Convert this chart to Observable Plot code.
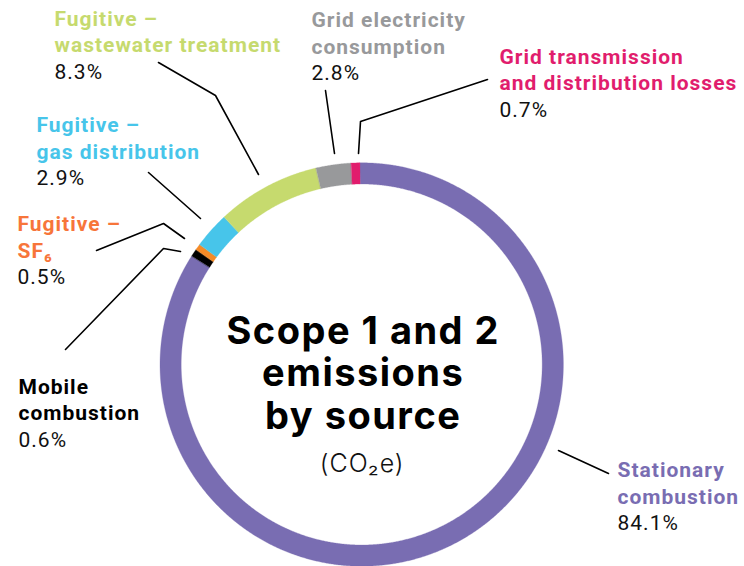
<!DOCTYPE html>
<html><head><meta charset="utf-8">
<script src="https://cdn.jsdelivr.net/npm/d3@7"></script>
<script src="https://cdn.jsdelivr.net/npm/@observablehq/plot@0.6"></script>
<style>
html,body{margin:0;padding:0;background:#fff}svg{display:block}
g[font-family="Roboto"] text{letter-spacing:1px}
g[font-family="Inter"][font-weight="700"] text{letter-spacing:1.5px}
g[font-family="Inter"][font-weight="300"] text{letter-spacing:1px}
</style>
</head><body><div id="chart"></div>
<script>
// ---- data ----
const categories = ["Stationary combustion", "Mobile combustion", "Fugitive – SF₆", "Fugitive – gas distribution", "Fugitive – wastewater treatment", "Grid electricity consumption", "Grid transmission and distribution losses"];
const labelLines = [["Stationary", "combustion"], ["Mobile", "combustion"], ["Fugitive –", "SF₆"], ["Fugitive –", "gas distribution"], ["Fugitive –", "wastewater treatment"], ["Grid electricity", "consumption"], ["Grid transmission", "and distribution losses"]];
const shares = [84.1, 0.6, 0.5, 2.9, 8.3, 2.8, 0.7];
const shareLabels = ["84.1%", "0.6%", "0.5%", "2.9%", "8.3%", "2.8%", "0.7%"];
const segmentColors = ["#796db2", "#000000", "#f68a26", "#47c5ea", "#c6da6e", "#98999b", "#e11d6d"];
const labelColors = ["#796db2", "#000000", "#f7753a", "#47c5ea", "#c6da6e", "#98999b", "#e11d6d"];
const titleLines = ["Scope 1 and 2", "emissions", "by source"];
const unitLabel = "(CO₂e)";

// ---- layout (pixels) ----
const W = 744, H = 566;
const ring = {cx: 361.7, cy: 364.5, outer: 201.7, inner: 180.5, startDeg: -0.5};
const labelAnchors = [[617, 476.7], [18, 393], [17, 230.5], [36, 131.7], [54, 25], [311, 26.7], [499, 63.3]];
const lineStep = 26.5;
const leaders = [
  [[558, 450], [608, 473]],
  [[65, 349], [163, 248], [180, 251]],
  [[96, 250], [163, 223], [184, 238]],
  [[148, 172], [200, 218]],
  [[158, 62], [215, 95], [258, 174]],
  [[325, 90], [334, 153]],
  [[487, 79], [360, 121], [358, 153]]
];

// ---- ring geometry from the shares ----
const pie = d3.pie().sort(null).value(d => d)
  .startAngle(ring.startDeg * Math.PI / 180)
  .endAngle(ring.startDeg * Math.PI / 180 + 2 * Math.PI);
const arcs = pie(shares);
const ringPts = [];
arcs.forEach((a, i) => {
  const n = Math.max(2, Math.ceil((a.endAngle - a.startAngle) / 0.005));
  for (let k = 0; k <= n; k++) {
    const t = a.startAngle + (a.endAngle - a.startAngle) * k / n;
    ringPts.push({
      cat: categories[i],
      ox: ring.cx + ring.outer * Math.sin(t), oy: ring.cy - ring.outer * Math.cos(t),
      ix: ring.cx + ring.inner * Math.sin(t), iy: ring.cy - ring.inner * Math.cos(t)
    });
  }
});

// ---- label rows ----
const nameRows = [], pctRows = [];
categories.forEach((c, i) => {
  const [x, y] = labelAnchors[i];
  labelLines[i].forEach((t, j) => nameRows.push({x, y: y + j * lineStep, text: t, color: labelColors[i]}));
  pctRows.push({x, y: y + labelLines[i].length * lineStep, text: shareLabels[i]});
});
const leaderRows = leaders.flatMap((pts, i) => pts.map(([x, y]) => ({id: i, x, y})));
const titleRows = titleLines.map((t, j) => ({x: ring.cx + 1, y: 343 + j * 42.5, text: t}));

const chart = Plot.plot({
  width: W, height: H, margin: 0,
  style: {background: "#fff"},
  x: {domain: [0, W], range: [0, W], axis: null},
  y: {domain: [0, H], range: [0, H], axis: null},
  color: {domain: categories, range: segmentColors},
  marks: [
    Plot.area(ringPts, {x1: "ox", y1: "oy", x2: "ix", y2: "iy", z: "cat", fill: "cat", stroke: "cat", strokeWidth: 0.3}),
    Plot.line(leaderRows, {x: "x", y: "y", z: "id", stroke: "#000", strokeWidth: 1.6}),
    Plot.text(nameRows, {x: "x", y: "y", text: "text", fill: "color", textAnchor: "start", lineAnchor: "bottom", fontFamily: "Roboto", fontWeight: 700, fontSize: 21}),
    Plot.text(pctRows, {x: "x", y: "y", text: "text", fill: "#111", textAnchor: "start", lineAnchor: "bottom", fontFamily: "Roboto", fontWeight: 400, fontSize: 21}),
    Plot.text(titleRows, {x: "x", y: "y", text: "text", fill: "#000", textAnchor: "middle", lineAnchor: "bottom", fontFamily: "Inter", fontWeight: 700, fontSize: 38}),
    Plot.text([{x: ring.cx, y: 471, text: unitLabel}], {x: "x", y: "y", text: "text", fill: "#111", textAnchor: "middle", lineAnchor: "bottom", fontFamily: "Inter", fontWeight: 300, fontSize: 25})
  ]
});
document.getElementById("chart").appendChild(chart);
</script>
</body></html>
